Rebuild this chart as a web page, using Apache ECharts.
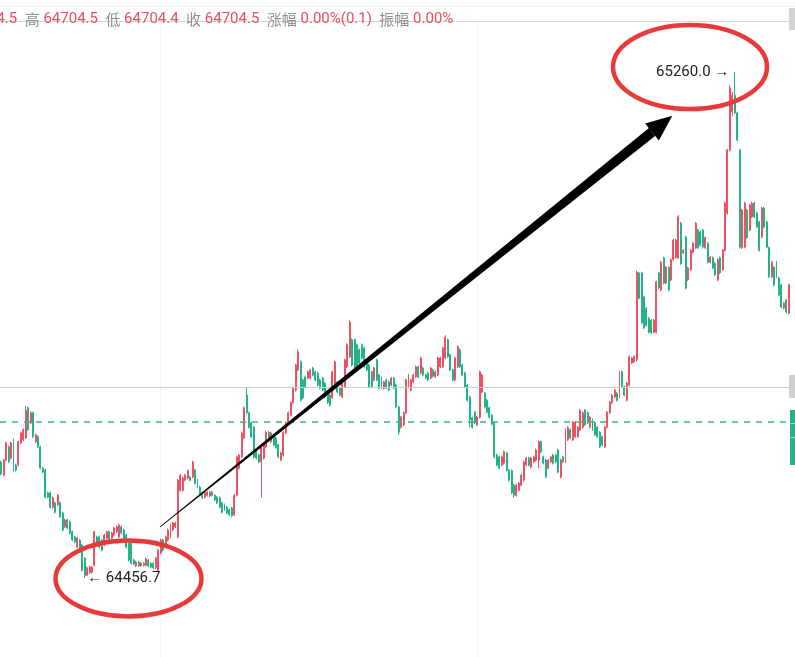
<!DOCTYPE html>
<html>
<head>
<meta charset="utf-8">
<script src="https://cdn.jsdelivr.net/npm/echarts@6/dist/echarts.min.js"></script>
<style>
  html, body { margin: 0; padding: 0; background: #fff; }
  #kline { width: 795px; height: 657px; }
</style>
</head>
<body>
<div id="kline"></div>
<script>
// [open, close, low, high]
var candles = [
  [64641,64622,64620,64643],[64620,64644,64618,64646],[64644,64671,64642,64673],[64665,64641,64639,64667],
  [64647,64671,64645,64673],[64676,64628,64626,64678],[64636,64628,64626,64638],[64636,64673,64634,64675],
  [64671,64687,64669,64689],[64676,64692,64674,64694],[64679,64723,64677,64730],[64727,64692,64690,64729],
  [64703,64719,64701,64721],[64719,64681,64679,64721],[64673,64684,64671,64686],[64681,64665,64663,64683],
  [64665,64631,64629,64667],[64631,64625,64623,64633],[64628,64585,64583,64630],[64592,64585,64583,64594],
  [64592,64569,64567,64594],[64569,64584,64567,64586],[64576,64561,64559,64578],[64573,64588,64571,64590],
  [64576,64554,64552,64578],[64560,64533,64531,64562],[64538,64549,64536,64551],[64549,64536,64534,64551],
  [64546,64528,64526,64548],[64530,64517,64515,64532],[64522,64514,64512,64524],[64506,64520,64504,64522],
  [64517,64504,64502,64519],[64509,64469,64467,64511],[64488,64461,64456.7,64490],[64461,64473,64460,64475],
  [64465,64474,64463,64476],[64466,64474,64464,64476],[64477,64530,64475,64532],[64522,64512,64510,64524],
  [64522,64506,64504,64524],[64517,64501,64499,64519],[64509,64525,64507,64527],[64520,64530,64518,64532],
  [64530,64517,64515,64532],[64520,64528,64518,64530],[64525,64536,64523,64538],[64530,64538,64528,64540],
  [64522,64541,64520,64543],[64538,64528,64526,64540],[64533,64520,64518,64535],[64525,64506,64504,64527],
  [64512,64485,64483,64514],[64512,64480,64478,64514],[64485,64479,64477,64487],[64476,64482,64474,64484],
  [64482,64476,64474,64484],[64476,64480,64474,64482],[64480,64477,64475,64482],[64477,64487,64475,64489],
  [64485,64476,64474,64487],[64480,64474,64472,64482],[64480,64473,64471,64482],[64473,64488,64471,64490],
  [64469,64501,64467,64503],[64496,64517,64494,64519],[64517,64501,64499,64519],[64506,64522,64504,64524],
  [64517,64533,64515,64535],[64522,64541,64520,64543],[64533,64544,64531,64546],[64538,64544,64536,64546],
  [64522,64612,64520,64614],[64596,64620,64594,64622],[64596,64615,64594,64617],[64612,64620,64610,64622],
  [64615,64627,64613,64629],[64617,64612,64610,64619],[64617,64641,64615,64643],[64628,64607,64605,64630],
  [64612,64601,64599,64614],[64601,64588,64586,64603],[64592,64584,64582,64594],[64585,64593,64583,64595],
  [64588,64593,64586,64595],[64593,64587,64585,64595],[64588,64593,64586,64595],[64588,64581,64579,64590],
  [64585,64576,64574,64587],[64584,64569,64567,64586],[64576,64561,64559,64578],[64573,64565,64563,64575],
  [64569,64560,64558,64571],[64565,64557,64555,64567],[64568,64555,64553,64570],[64557,64588,64555,64590],
  [64588,64649,64586,64651],[64631,64652,64629,64654],[64649,64687,64647,64689],[64679,64727,64677,64729],
  [64747,64719,64717,64760],[64719,64696,64694,64721],[64703,64681,64679,64705],[64696,64649,64647,64698],
  [64657,64647,64645,64659],[64652,64641,64639,64654],[64641,64668,64584,64670],[64647,64668,64645,64670],
  [64665,64688,64663,64690],[64688,64679,64677,64690],[64673,64687,64671,64689],[64684,64668,64666,64686],
  [64679,64664,64662,64681],[64668,64649,64647,64670],[64644,64655,64642,64657],[64652,64688,64650,64690],
  [64687,64703,64685,64705],[64703,64719,64701,64721],[64715,64735,64713,64737],[64735,64758,64733,64760],
  [64755,64795,64753,64797],[64787,64816,64785,64820],[64800,64739,64737,64802],[64771,64743,64741,64773],
  [64776,64760,64758,64778],[64774,64784,64772,64786],[64774,64787,64772,64789],[64790,64779,64777,64792],
  [64784,64771,64769,64786],[64782,64763,64761,64784],[64771,64758,64756,64773],[64774,64755,64753,64776],
  [64766,64744,64742,64768],[64752,64735,64733,64754],[64747,64731,64729,64749],[64743,64784,64741,64786],
  [64758,64800,64756,64802],[64768,64752,64750,64770],[64758,64747,64745,64760],[64744,64768,64742,64770],
  [64760,64803,64758,64805],[64792,64827,64790,64829],[64808,64863,64806,64866],[64835,64795,64793,64837],
  [64835,64790,64788,64837],[64827,64790,64788,64829],[64819,64798,64796,64821],[64827,64806,64804,64829],
  [64822,64792,64790,64824],[64800,64787,64785,64802],[64795,64760,64758,64797],[64784,64760,64758,64786],
  [64771,64790,64769,64792],[64803,64771,64769,64805],[64779,64758,64756,64781],[64774,64758,64756,64776],
  [64758,64768,64756,64770],[64771,64758,64756,64773],[64768,64755,64753,64770],[64763,64774,64761,64776],
  [64774,64758,64756,64776],[64763,64728,64726,64765],[64728,64688,64684,64730],[64696,64712,64694,64714],
  [64700,64719,64698,64721],[64719,64771,64717,64773],[64760,64779,64758,64781],[64755,64771,64753,64773],
  [64768,64779,64766,64781],[64776,64792,64774,64794],[64792,64776,64774,64794],[64782,64806,64780,64808],
  [64790,64779,64777,64792],[64779,64774,64772,64781],[64782,64771,64769,64784],[64774,64790,64772,64792],
  [64787,64777,64775,64789],[64776,64784,64774,64786],[64779,64806,64777,64808],[64792,64806,64790,64808],
  [64792,64822,64790,64824],[64806,64839,64804,64842],[64835,64808,64806,64837],[64811,64787,64785,64813],
  [64787,64771,64769,64789],[64771,64806,64769,64808],[64792,64824,64790,64826],[64819,64792,64790,64821],
  [64795,64779,64777,64797],[64782,64760,64758,64784],[64763,64739,64737,64765],[64744,64708,64696,64746],
  [64711,64696,64694,64713],[64720,64703,64701,64722],[64700,64712,64698,64714],[64712,64784,64710,64786],
  [64752,64779,64750,64781],[64750,64728,64726,64752],[64739,64720,64718,64741],[64727,64712,64710,64729],
  [64715,64701,64699,64717],[64703,64649,64647,64705],[64652,64636,64634,64654],[64649,64631,64629,64651],
  [64636,64649,64634,64651],[64639,64657,64637,64659],[64655,64628,64626,64657],[64628,64612,64610,64630],
  [64627,64592,64590,64629],[64604,64588,64584,64606],[64588,64604,64586,64606],[64596,64607,64594,64609],
  [64604,64620,64602,64622],[64612,64641,64610,64643],[64636,64647,64634,64649],[64647,64636,64634,64649],
  [64633,64647,64631,64649],[64641,64649,64639,64651],[64644,64660,64642,64662],[64644,64673,64631,64675],
  [64673,64657,64655,64675],[64649,64639,64637,64651],[64644,64617,64615,64646],[64631,64644,64629,64646],
  [64641,64649,64639,64651],[64652,64639,64637,64654],[64652,64641,64639,64654],[64660,64625,64623,64662],
  [64617,64644,64615,64646],[64649,64641,64639,64651],[64641,64692,64639,64694],[64676,64696,64674,64698],
  [64692,64679,64677,64694],[64676,64704,64674,64706],[64681,64704,64679,64706],[64681,64696,64679,64698],
  [64692,64723,64690,64725],[64696,64719,64694,64721],[64723,64700,64698,64725],[64719,64703,64701,64721],
  [64696,64712,64694,64714],[64708,64692,64690,64710],[64703,64684,64682,64705],[64696,64681,64679,64698],
  [64688,64665,64663,64690],[64681,64668,64666,64683],[64665,64696,64663,64698],[64696,64720,64694,64722],
  [64719,64736,64717,64738],[64735,64747,64733,64749],[64744,64755,64742,64757],[64750,64739,64737,64752],
  [64744,64784,64742,64786],[64784,64760,64758,64786],[64760,64747,64745,64762],[64739,64766,64737,64768],
  [64763,64808,64761,64810],[64798,64806,64796,64808],[64800,64808,64798,64810],[64803,64942,64801,64945],
  [64941,64901,64899,64943],[64941,64862,64860,64943],[64903,64854,64852,64905],[64885,64858,64856,64887],
  [64869,64847,64845,64871],[64866,64846,64844,64868],[64847,64866,64845,64868],[64847,64927,64845,64929],
  [64941,64917,64915,64943],[64914,64958,64912,64960],[64965,64925,64923,64967],[64925,64950,64923,64952],
  [64950,64914,64912,64952],[64930,64962,64928,64964],[64962,64993,64960,64995],[64965,64993,64963,64995],
  [64965,65030,64963,65033],[65020,64956,64954,65022],[64973,64977,64971,64979],[64998,64917,64915,65000],
  [64930,64949,64928,64951],[64946,64977,64944,64979],[64974,64988,64972,64990],[64981,65020,64979,65022],
  [65009,64981,64979,65011],[65006,64985,64983,65008],[65009,64982,64980,65011],[64981,64997,64979,64999],
  [64988,64958,64956,64990],[64958,64966,64956,64968],[64965,64949,64947,64967],[64956,64938,64936,64958],
  [64930,64962,64928,64964],[64965,64941,64939,64967],[64946,64977,64944,64979],[64977,65052,64975,65054],
  [65036,65136,65034,65138],[65136,65235,65134,65239],[65197,65223,65190,65228],[65223,65195,65193,65260],
  [65195,65152,65150,65197],[65136,64982,64980,65138],[64981,65041,64979,65043],[64982,65052,64980,65054],
  [65041,64997,64995,65043],[65009,65049,65007,65051],[65030,65052,65028,65054],[65052,65030,65028,65054],
  [65036,65014,65012,65038],[65022,64977,64975,65024],[64998,65044,64996,65046],[65044,65014,65012,65046],
  [65022,64982,64980,65024],[64981,64935,64933,64983],[64935,64958,64933,64960],[64950,64922,64920,64952],
  [64958,64935,64933,64960],[64933,64906,64904,64935],[64922,64887,64885,64924],[64885,64893,64883,64895],
  [64898,64879,64877,64900],[64877,64922,64875,64924]
];

var lastPrice = 64704.5;   // 现价虚线
var refPrice = 64760;      // 灰色参考线
var headerLabels = ['开', '高', '低', '收', '涨幅', '振幅'];
var headerValues = ['64704.5', '64704.5', '64704.4', '64704.5', '0.00%(0.1)', '0.00%'];

var upColor = '#ec5262';
var downColor = '#22b488';

var categories = candles.map(function (d, i) { return String(i); });

// 最高点 / 最低点
var hiIdx = 0, loIdx = 0;
candles.forEach(function (d, i) {
  if (d[3] > candles[hiIdx][3]) hiIdx = i;
  if (d[2] < candles[loIdx][2]) loIdx = i;
});
var hiVal = candles[hiIdx][3];
var loVal = candles[loIdx][2];

var headerText = headerLabels.map(function (l, i) {
  return '{l|' + l + '} {v|' + headerValues[i] + '}';
}).join('  ');

// 箭头（锥形箭身 + 箭头）
var arrowShaft = [[160.3, 527.3], [159.7, 526.7], [648.9, 128.1], [655.1, 135.9]];
var arrowHead = [[645.1, 123.4], [672.3, 115.7], [658.9, 140.6]];

var option = {
  animation: false,
  backgroundColor: '#fff',
  grid: { left: 0, right: 5, top: 0, bottom: 0 },
  xAxis: {
    type: 'category',
    data: categories,
    show: false
  },
  yAxis: {
    type: 'value',
    min: 64331.3,
    max: 65374.3,
    show: false,
    splitLine: { show: false }
  },
  series: [{
    type: 'candlestick',
    data: candles,
    barWidth: '60%',
    itemStyle: {
      color: upColor,
      color0: downColor,
      borderColor: upColor,
      borderColor0: downColor,
      borderWidth: 1
    },
    markLine: {
      silent: true,
      symbol: 'none',
      label: { show: false },
      data: [
        { yAxis: refPrice, lineStyle: { color: '#cccccc', type: 'solid', width: 1.2 } },
        { yAxis: lastPrice, lineStyle: { color: '#3db38f', type: [6, 6], width: 1.5 } }
      ]
    },
    markPoint: {
      silent: true,
      symbol: 'circle',
      symbolSize: 1,
      itemStyle: { color: 'rgba(0,0,0,0)' },
      data: [
        {
          coord: [hiIdx, hiVal],
          label: {
            show: true, position: 'left', distance: 5,
            formatter: hiVal.toFixed(1) + ' →',
            color: '#222', fontSize: 15, fontFamily: 'Roboto, sans-serif'
          }
        },
        {
          coord: [loIdx, loVal],
          label: {
            show: true, position: 'right', distance: 2,
            formatter: '← ' + loVal.toFixed(1),
            color: '#222', fontSize: 15, fontFamily: 'Roboto, sans-serif'
          }
        }
      ]
    }
  }],
  graphic: [
    { type: 'line', shape: { x1: 0, y1: 6.5, x2: 795, y2: 6.5 }, style: { stroke: '#efefef', lineWidth: 1 }, z: 0 },
    { type: 'line', shape: { x1: 0, y1: 21.5, x2: 790, y2: 21.5 }, style: { stroke: '#d4d4d4', lineWidth: 1 }, z: 0 },
    { type: 'rect', shape: { x: 789, y: 8, width: 6, height: 22 }, style: { fill: '#d2d2d2' }, z: 0 },
    { type: 'line', shape: { x1: 160.5, y1: 22, x2: 160.5, y2: 657 }, style: { stroke: '#f6f6f6', lineWidth: 1 }, z: 0 },
    { type: 'line', shape: { x1: 477.5, y1: 22, x2: 477.5, y2: 657 }, style: { stroke: '#f6f6f6', lineWidth: 1 }, z: 0 },
    {
      type: 'text', x: -56, y: 19, z: 5,
      style: {
        text: headerText,
        verticalAlign: 'middle',
        font: '15px Roboto, "Noto Sans CJK SC", sans-serif',
        rich: {
          l: { fill: '#8f8f8f', fontSize: 15, fontFamily: '"Noto Sans CJK SC", sans-serif' },
          v: { fill: '#e8505c', fontSize: 15, fontFamily: 'Roboto, sans-serif' }
        }
      }
    },
    { type: 'rect', shape: { x: 789, y: 375, width: 6, height: 23 }, style: { fill: '#cfcfcf' }, z: 5 },
    { type: 'rect', shape: { x: 790, y: 410, width: 5, height: 55 }, style: { fill: '#22b386' }, z: 5 },
    { type: 'line', shape: { x1: 790, y1: 423.5, x2: 795, y2: 423.5 }, style: { stroke: '#8fdcc4', lineWidth: 1 }, z: 6 },
    { type: 'line', shape: { x1: 790, y1: 437.5, x2: 795, y2: 437.5 }, style: { stroke: '#8fdcc4', lineWidth: 1 }, z: 6 },
    { type: 'polygon', shape: { points: arrowShaft }, style: { fill: '#000' }, z: 10 },
    { type: 'polygon', shape: { points: arrowHead }, style: { fill: '#000' }, z: 10 },
    { type: 'ellipse', shape: { cx: 128.5, cy: 578.5, rx: 73, ry: 38 }, style: { fill: 'none', stroke: '#e8393b', lineWidth: 4.5 }, z: 10 },
    { type: 'ellipse', shape: { cx: 690, cy: 67, rx: 77, ry: 42 }, style: { fill: 'none', stroke: '#e8393b', lineWidth: 4.5 }, z: 10 }
  ]
};

var myChart = echarts.init(document.getElementById('kline'));
myChart.setOption(option);
</script>
</body>
</html>
